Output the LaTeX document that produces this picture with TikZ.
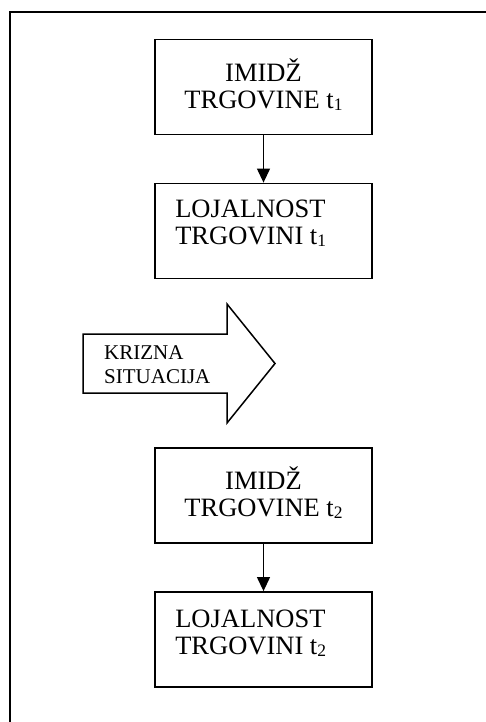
\documentclass[tikz,border=0pt]{standalone}
\usepackage{fontspec}
\setmainfont{Liberation Serif}
\usetikzlibrary{arrows.meta}
\newcommand\tidx[1]{\raisebox{-2pt}{\fontsize{17.5}{17.5}\selectfont #1}}

\begin{document}
\begin{tikzpicture}[x=1pt,y=-1pt,
  box/.style={draw,line width=1.8pt,minimum width=217pt,minimum height=95pt,inner sep=0pt},
  boxtxt/.style={inner sep=0pt,align=left,font=\fontsize{26.5}{27}\selectfont},
  midtxt/.style={inner sep=0pt,align=center,font=\fontsize{26.5}{27}\selectfont},
  conn/.style={line width=1.2pt,-{Triangle[width=13pt,length=14pt]}}]
 \useasboundingbox (0,0) rectangle (485,722);
 % ---- frame (cut off at right and bottom) ----
 \draw[line width=1.8pt] (10,730) -- (10,12) -- (495,12);
 % ---- boxes ----
 \node[box] (b1) at (263.5,87) {};
 \node[box] (b2) at (263.5,231) {};
 \node[box] (b3) at (263.5,495.5) {};
 \node[box] (b4) at (263.5,639.5) {};
 \node[midtxt] (t1) at ([yshift=2.5pt]b1.center) {IMIDŽ\\TRGOVINE t\tidx{1}};
 \node[boxtxt,anchor=north west] (t2) at ([xshift=21pt,yshift=-17.5pt]b2.north west) {LOJALNOST\\TRGOVINI t\tidx{1}};
 \node[midtxt] (t3) at ([yshift=2.5pt]b3.center) {IMIDŽ\\TRGOVINE t\tidx{2}};
 \node[boxtxt,anchor=north west] (t4) at ([xshift=21pt,yshift=-18.5pt]b4.north west) {LOJALNOST\\TRGOVINI t\tidx{2}};
 % ---- connectors ----
 \draw[conn] (b1) -- (b2);
 \draw[conn] (b3) -- (b4);
 % ---- crisis arrow ----
 \draw[line width=1.5pt,line join=miter] (83,334) -- (227,334) -- (227,304) -- (275,363.5)
   -- (227,423) -- (227,393) -- (83,393) -- cycle;
 \node[inner sep=0pt,align=left,anchor=north west,font=\fontsize{21}{24}\selectfont] (kriza) at (104,345.5) {KRIZNA\\SITUACIJA};
\end{tikzpicture}
\end{document}
